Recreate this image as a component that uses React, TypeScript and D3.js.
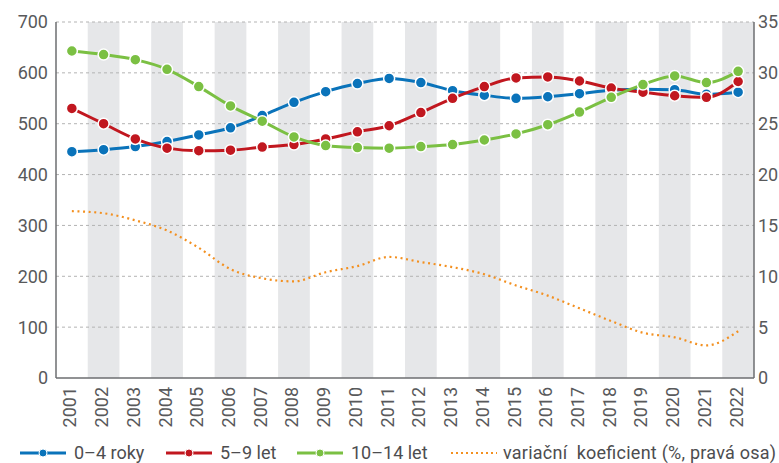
import { useMemo } from "react";
import * as d3 from "d3";

const WIDTH = 779;
const HEIGHT = 463;
const MARGIN = { top: 22, right: 25, bottom: 85, left: 56 };
const FONT = "Roboto, 'Open Sans', sans-serif";

const years = ["2001", "2002", "2003", "2004", "2005", "2006", "2007", "2008", "2009", "2010", "2011",
    "2012", "2013", "2014", "2015", "2016", "2017", "2018", "2019", "2020", "2021", "2022"];

const age04 = [445, 449, 455, 465, 478, 492, 516, 542, 563, 579, 589, 581, 565, 556, 550, 553, 559, 566, 568, 567, 558, 562];
const age59 = [530, 500, 470, 452, 447, 448, 454, 459, 470, 484, 496, 522, 550, 573, 590, 592, 584, 570, 562, 555, 552, 583];
const age1014 = [643, 636, 626, 607, 573, 535, 505, 474, 457, 453, 452, 455, 459, 468, 480, 498, 523, 552, 577, 594, 581, 603];
const variation = [16.4, 16.2, 15.5, 14.5, 12.8, 10.7, 9.8, 9.5, 10.4, 11.0, 11.9, 11.4, 10.9, 10.2, 9.1, 8.1, 6.85, 5.6, 4.45, 4.0, 3.2, 4.6];

const leftTicks = [0, 100, 200, 300, 400, 500, 600, 700];
const rightTicks = [0, 5, 10, 15, 20, 25, 30, 35];

const series = [
    { name: "0–4 roky", color: "#0a73ba", values: age04 },
    { name: "5–9 let", color: "#c1171f", values: age59 },
    { name: "10–14 let", color: "#7bc043", values: age1014 },
];
const orange = "#f39020";
const variationLabel = "variační  koeficient (%, pravá osa)";

export default function App() {
    const boundsWidth = WIDTH - MARGIN.left - MARGIN.right;
    const boundsHeight = HEIGHT - MARGIN.top - MARGIN.bottom;

    const xScale = useMemo(() => d3.scaleBand().domain(years).range([0, boundsWidth]).padding(0), [boundsWidth]);
    const yLeft = useMemo(() => d3.scaleLinear().domain([0, 700]).range([boundsHeight, 0]), [boundsHeight]);
    const yRight = useMemo(() => d3.scaleLinear().domain([0, 35]).range([boundsHeight, 0]), [boundsHeight]);

    const cx = (i: number) => (xScale(years[i]) ?? 0) + xScale.bandwidth() / 2;

    const lineLeft = d3.line<number>().x((_, i) => cx(i)).y((d) => yLeft(d)).curve(d3.curveMonotoneX);
    const lineRight = d3.line<number>().x((_, i) => cx(i)).y((d) => yRight(d)).curve(d3.curveMonotoneX);

    const legendY = 453;
    const legendItems = [
        { x: 20, label: series[0].name, color: series[0].color },
        { x: 166, label: series[1].name, color: series[1].color },
        { x: 297, label: series[2].name, color: series[2].color },
    ];

    return (
        <svg width={WIDTH} height={HEIGHT} style={{ position: "absolute", left: 0, top: 0 }} fontFamily={FONT}>
            <rect width={WIDTH} height={HEIGHT} fill="#fff" />
            <g transform={`translate(${MARGIN.left},${MARGIN.top})`}>
                {years.map((y, i) => i % 2 === 1 && (
                    <rect key={y} x={xScale(y)} y={0} width={xScale.bandwidth()} height={boundsHeight} fill="#e6e7e9" />
                ))}
                {leftTicks.slice(1).map((t) => (
                    <line key={t} x1={0} x2={boundsWidth} y1={yLeft(t)} y2={yLeft(t)} stroke="#b3b3b3" strokeDasharray="3,3" strokeWidth={1} />
                ))}
                <line x1={0} x2={0} y1={0} y2={boundsHeight} stroke="#6d6e71" strokeWidth={1.5} />
                <line x1={boundsWidth} x2={boundsWidth} y1={0} y2={boundsHeight} stroke="#6d6e71" strokeWidth={1.5} />
                <line x1={0} x2={boundsWidth} y1={boundsHeight} y2={boundsHeight} stroke="#6d6e71" strokeWidth={1.5} />
                {leftTicks.map((t) => (
                    <text key={t} x={-8} y={yLeft(t)} dy="0.36em" textAnchor="end" fontSize={18} fill="#58595b">{t}</text>
                ))}
                {rightTicks.map((t) => (
                    <text key={t} x={boundsWidth + 4} y={yRight(t)} dy="0.36em" textAnchor="start" fontSize={18} fill="#58595b">{t}</text>
                ))}
                {years.map((y, i) => (
                    <text key={y} transform={`translate(${cx(i) - 2},${boundsHeight + 9}) rotate(-90)`} dy="0.36em" textAnchor="end" fontSize={18} fill="#58595b">{y}</text>
                ))}
                <path d={lineRight(variation) ?? ""} fill="none" stroke={orange} strokeWidth={2.2} strokeDasharray="2,3.6" />
                {series.map((s) => (
                    <g key={s.name}>
                        <path d={lineLeft(s.values) ?? ""} fill="none" stroke={s.color} strokeWidth={3} />
                        {s.values.map((v, i) => (
                            <circle key={i} cx={cx(i)} cy={yLeft(v)} r={5.5} fill={s.color} stroke="#fff" strokeWidth={1.5} />
                        ))}
                    </g>
                ))}
            </g>
            <g fontSize={18} fill="#4d4d4f">
                {legendItems.map((d) => (
                    <g key={d.label}>
                        <line x1={d.x} x2={d.x + 46} y1={legendY} y2={legendY} stroke={d.color} strokeWidth={3} />
                        <circle cx={d.x + 23} cy={legendY} r={4} fill={d.color} stroke="#fff" strokeWidth={1} />
                        <text x={d.x + 54} y={legendY} dy="0.36em">{d.label}</text>
                    </g>
                ))}
                <line x1={451} x2={497} y1={legendY} y2={legendY} stroke={orange} strokeWidth={2} strokeDasharray="2,3" />
                <text x={503} y={legendY} dy="0.36em" style={{ whiteSpace: "pre" }} textLength={273} lengthAdjust="spacing">{variationLabel}</text>
            </g>
        </svg>
    );
}
